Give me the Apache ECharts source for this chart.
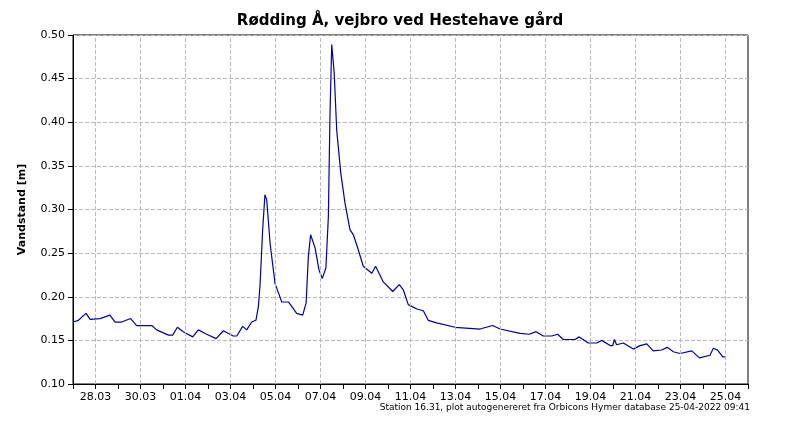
<!DOCTYPE html>
<html>
<head>
<meta charset="utf-8">
<script src="https://cdn.jsdelivr.net/npm/echarts@6/dist/echarts.min.js"></script>
<style>
  html, body { margin: 0; background: #fff; }
  #main { width: 800px; height: 425px; }
</style>
</head>
<body>
<div id="main"></div>
<script>
// days after 28.03.2022 00:00
var days = [-1, -0.76, -0.42, -0.24, 0.20, 0.64, 0.87, 1.16, 1.56, 1.83, 2.50, 2.72, 3.24, 3.43, 3.64, 3.90,
    4.32, 4.57, 4.94, 5.36, 5.68, 6.12, 6.28, 6.54, 6.72, 6.94, 7.13, 7.24, 7.31, 7.43, 7.53, 7.61, 7.76, 7.98,
    8.28, 8.57, 8.72, 8.94, 9.21, 9.36, 9.46, 9.56, 9.76, 9.93, 10.08, 10.24, 10.35, 10.42, 10.50, 10.54, 10.61,
    10.72, 10.90, 11.09, 11.31, 11.46, 11.64, 11.90, 12.28, 12.45, 12.79, 13.21, 13.50, 13.68, 13.90, 14.28,
    14.57, 14.79, 15.16, 15.98, 17.09, 17.65, 17.98, 18.87, 19.28, 19.58, 19.90, 20.28, 20.54, 20.79, 21.31,
    21.50, 21.90, 22.28, 22.50, 22.87, 22.99, 23.06, 23.16, 23.46, 23.90, 24.20, 24.50, 24.79, 25.16, 25.41,
    25.68, 25.98, 26.50, 26.84, 27.31, 27.46, 27.64, 27.88, 27.98];
var level = [0.171, 0.173, 0.181, 0.174, 0.175, 0.179, 0.171, 0.171, 0.175, 0.167, 0.167, 0.162, 0.156, 0.156,
    0.165, 0.160, 0.154, 0.162, 0.157, 0.152, 0.161, 0.155, 0.155, 0.166, 0.162, 0.171, 0.173, 0.189, 0.212,
    0.277, 0.317, 0.311, 0.261, 0.215, 0.194, 0.194, 0.189, 0.181, 0.179, 0.193, 0.246, 0.271, 0.256, 0.231,
    0.221, 0.233, 0.292, 0.407, 0.489, 0.489, 0.456, 0.391, 0.342, 0.307, 0.277, 0.271, 0.257, 0.235, 0.227,
    0.235, 0.217, 0.206, 0.214, 0.208, 0.191, 0.186, 0.184, 0.173, 0.170, 0.165, 0.163, 0.167, 0.163, 0.158,
    0.157, 0.160, 0.155, 0.155, 0.157, 0.151, 0.151, 0.154, 0.147, 0.147, 0.150, 0.144, 0.144, 0.151, 0.145,
    0.147, 0.140, 0.144, 0.146, 0.138, 0.139, 0.142, 0.137, 0.135, 0.138, 0.130, 0.133, 0.141, 0.139, 0.131,
    0.131];
var tickLabels = ['28.03', '30.03', '01.04', '03.04', '05.04', '07.04', '09.04', '11.04', '13.04', '15.04',
    '17.04', '19.04', '21.04', '23.04', '25.04'];
var gridDays = tickLabels.map(function (t, i) { return i * 2; });

var chart = echarts.init(document.getElementById('main'));
var font = 'DejaVu Sans';

chart.setOption({
    animation: false,
    title: {
        text: 'Rødding Å, vejbro ved Hestehave gård',
        left: 'center', top: 9,
        textStyle: { fontFamily: font, fontSize: 15, fontWeight: 'bold', color: '#000' }
    },
    graphic: [{
        type: 'text', right: 50, top: 403,
        style: {
            text: 'Station 16.31, plot autogenereret fra Orbicons Hymer database 25-04-2022 09:41',
            font: '9px DejaVu Sans', fill: '#000'
        }
    }],
    grid: { left: 73, right: 52, top: 35, bottom: 41, show: true, borderColor: '#000', borderWidth: 1 },
    xAxis: {
        type: 'value', min: -1, max: 29, interval: 1,
        axisLine: { onZero: false, lineStyle: { color: '#000' } },
        axisTick: { lineStyle: { color: '#000' }, length: 5 },
        splitLine: { show: false },
        axisLabel: {
            fontFamily: font, fontSize: 11, color: '#000', margin: 8,
            formatter: function (v) { return v >= 0 && v % 2 === 0 ? tickLabels[v / 2] : ''; }
        }
    },
    yAxis: {
        type: 'value', min: 0.1, max: 0.5, interval: 0.05,
        name: 'Vandstand [m]', nameLocation: 'middle', nameGap: 45, nameRotate: 90,
        nameTextStyle: { fontFamily: font, fontSize: 11, fontWeight: 'bold', color: '#000' },
        axisLine: { show: true, onZero: false, lineStyle: { color: '#000' } },
        axisTick: { show: true, lineStyle: { color: '#000' } },
        axisLabel: { fontFamily: font, fontSize: 11, color: '#000', formatter: function (v) { return v.toFixed(2); } },
        splitLine: { lineStyle: { color: '#bbb', type: 'dashed' } }
    },
    series: [{
        type: 'line', showSymbol: false,
        lineStyle: { color: '#0000a8', width: 1.2 },
        data: days.map(function (d, i) { return [d, level[i]]; }),
        markLine: {
            silent: true, symbol: 'none', label: { show: false },
            lineStyle: { color: '#bbb', type: 'dashed', width: 1 },
            data: gridDays.map(function (d) { return { xAxis: d }; })
        }
    }]
});
</script>
</body>
</html>
